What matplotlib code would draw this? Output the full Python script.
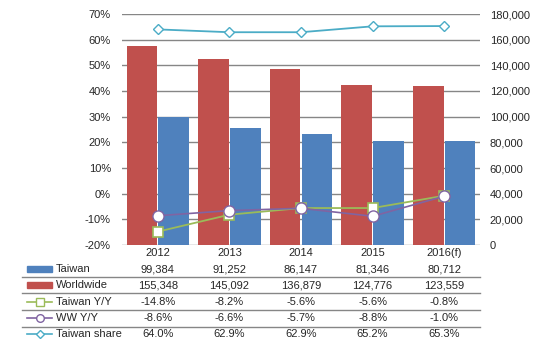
import matplotlib
matplotlib.use("Agg")
import matplotlib.pyplot as plt
import numpy as np
from matplotlib.lines import Line2D
from matplotlib.patches import Rectangle
from matplotlib.transforms import blended_transform_factory

years = ["2012", "2013", "2014", "2015", "2016(f)"]
taiwan = [99384, 91252, 86147, 81346, 80712]
worldwide = [155348, 145092, 136879, 124776, 123559]
taiwan_yoy = [-14.8, -8.2, -5.6, -5.6, -0.8]
ww_yoy = [-8.6, -6.6, -5.7, -8.8, -1.0]
taiwan_share = [64.0, 62.9, 62.9, 65.2, 65.3]

plt.rcParams['font.family'] = ['Liberation Sans', 'DejaVu Sans']
FS = 8
TXT = '#262626'
C_BLUE = '#4F81BD'
C_RED = '#C0504D'
C_GREEN = '#9BBB59'
C_PURPLE = '#8064A2'
C_CYAN = '#4BACC6'
GRID = '#868686'

W, H = 539, 350
fig = plt.figure(figsize=(W / 100, H / 100), dpi=100)
L, R, T, B = 122, 480, 14, 245
ax = fig.add_axes([L / W, 1 - B / H, (R - L) / W, (B - T) / H])
x = np.arange(len(years))

bw = 0.43
ax.bar(x - 0.222, worldwide, width=bw, color=C_RED, zorder=2)
ax.bar(x + 0.222, taiwan, width=bw, color=C_BLUE, zorder=2)
ax.set_xlim(-0.5, len(years) - 0.5)
ax.set_ylim(0, 180000)
ax.grid(axis='y', color=GRID, lw=1, zorder=0)
ax.set_axisbelow(True)
ax.set_xticks([])
for s in ax.spines.values():
    s.set_visible(False)

ax2 = ax.twinx()
ax.yaxis.tick_right()
ax.yaxis.set_label_position('right')
ax.set_yticks(np.arange(0, 180001, 20000))
ax.set_yticklabels([f"{v:,}" for v in range(0, 180001, 20000)], fontsize=FS, color=TXT)
ax.tick_params(axis='y', length=0, pad=7)

ax2.yaxis.tick_left()
ax2.set_ylim(-20, 70)
ax2.set_yticks(np.arange(-20, 71, 10))
ax2.set_yticklabels([f"{v}%" for v in range(-20, 71, 10)], fontsize=FS, color=TXT)
ax2.tick_params(axis='y', length=0, pad=8)
for s in ax2.spines.values():
    s.set_visible(False)
ax2.plot(x, taiwan_share, color=C_CYAN, lw=1.3, marker='D', ms=5, mfc='white', mec=C_CYAN, mew=1, zorder=3)
ax2.plot(x, taiwan_yoy, color=C_GREEN, lw=1.3, marker='s', ms=7, mfc='white', mec=C_GREEN, mew=1.2, zorder=4)
ax2.plot(x, ww_yoy, color=C_PURPLE, lw=1.2, marker='o', ms=8, mfc='white', mec=C_PURPLE, mew=1, zorder=5)

# data table
bt = blended_transform_factory(ax.transData, fig.transFigure)
def fy(py):
    return 1 - py / H

for xi, yr in zip(x, years):
    fig.text(xi, fy(253), yr, transform=bt, ha='center', va='center', fontsize=FS, color=TXT)

rows = [
    ("Taiwan", [f"{v:,}" for v in taiwan], 'rect', C_BLUE, None),
    ("Worldwide", [f"{v:,}" for v in worldwide], 'rect', C_RED, None),
    ("Taiwan Y/Y", [f"{v:.1f}%" for v in taiwan_yoy], 'line', C_GREEN, 's'),
    ("WW Y/Y", [f"{v:.1f}%" for v in ww_yoy], 'line', C_PURPLE, 'o'),
    ("Taiwan share", [f"{v:.1f}%" for v in taiwan_share], 'line', C_CYAN, 'D'),
]
row_y = [269, 285, 302, 318, 334]
sep_y = [277, 293, 310, 327]
k0, k1 = 27, 52
for (name, vals, kind, col, mk), py in zip(rows, row_y):
    if kind == 'rect':
        fig.add_artist(Rectangle((k0 / W, fy(py + 3)), (k1 - k0) / W, 6 / H,
                                 transform=fig.transFigure, color=col))
    else:
        ms = {'s': 5.5, 'o': 5.5, 'D': 4}[mk]
        fig.add_artist(Line2D([k0 / W, (k0 + k1) / 2 / W, k1 / W], [fy(py)] * 3,
                              transform=fig.transFigure, color=col, lw=1.2,
                              marker=mk, markevery=[1], ms=ms, mfc='white', mec=col, mew=1))
    fig.text(56 / W, fy(py), name, ha='left', va='center', fontsize=FS, color=TXT)
    for xi, v in zip(x, vals):
        fig.text(xi, fy(py), v, transform=bt, ha='center', va='center', fontsize=FS, color=TXT)

for py in sep_y:
    fig.add_artist(Line2D([22 / W, R / W], [fy(py)] * 2, transform=fig.transFigure, color=GRID, lw=1))

fig.savefig("out.png", dpi=100)
